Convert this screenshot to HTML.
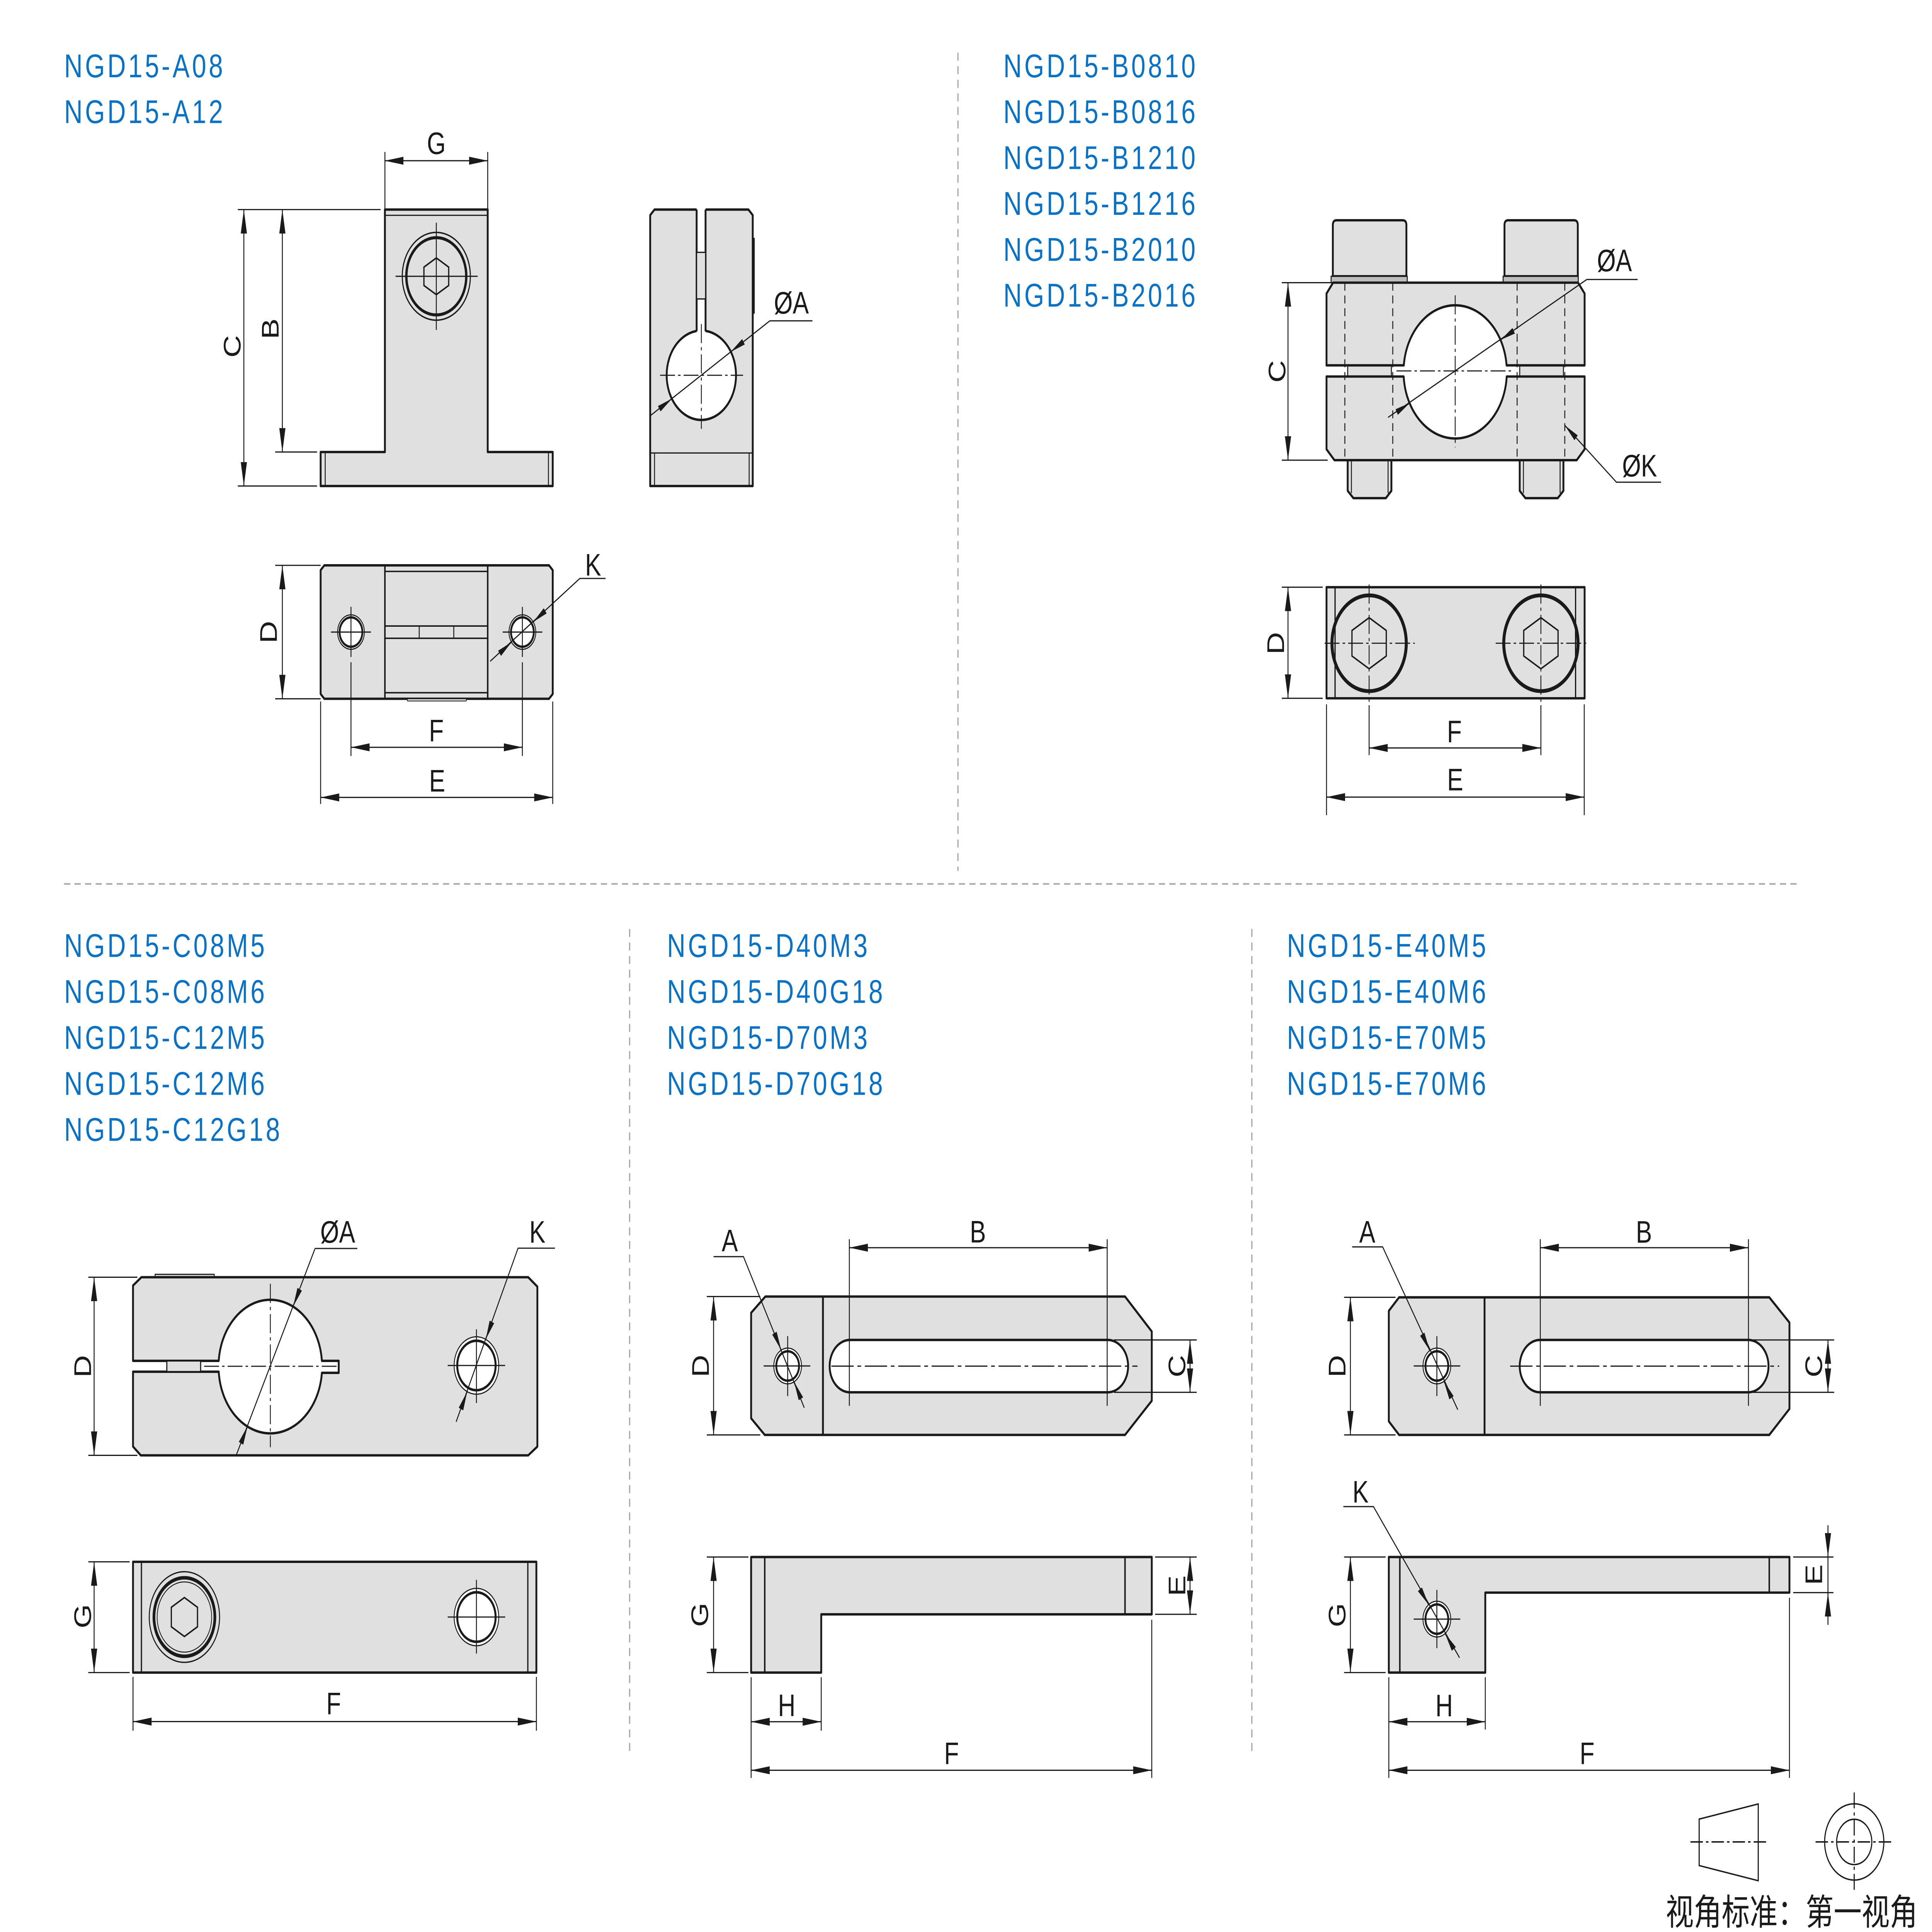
<!DOCTYPE html>
<html><head><meta charset="utf-8"><style>
html,body{margin:0;padding:0;background:#fff;width:100%;height:100%;overflow:hidden;}
svg{position:absolute;left:0;top:0;width:100vw;height:100vh;display:block;}
.o{fill:#e0e0e0;stroke:#1a1a1a;stroke-width:1.5;stroke-linejoin:round}
.w{fill:#fff;stroke:#1a1a1a;stroke-width:1.5}
.t{fill:none;stroke:#1a1a1a;stroke-width:0.75}
.tk{fill:none;stroke:#1a1a1a;stroke-width:1.5}
.c{fill:none;stroke:#1a1a1a;stroke-width:0.7;stroke-dasharray:12 2.5 2 2.5}
.hd{fill:none;stroke:#1a1a1a;stroke-width:0.75;stroke-dasharray:5 3}
.dv{fill:none;stroke:#a8a8a8;stroke-width:1;stroke-dasharray:5 3.5}
.l{font-family:"Liberation Sans",Arial,sans-serif;font-size:19.5px;fill:#1a1a1a;text-anchor:middle}
.h{font-family:"Liberation Sans",Arial,sans-serif;font-size:20.6px;fill:#0a72c4;letter-spacing:2px}
.cj{font-family:"Liberation Sans","Noto Sans CJK SC",sans-serif;font-size:22.6px;fill:#1a1a1a}
</style></head><body>
<svg xmlns="http://www.w3.org/2000/svg" viewBox="0 0 1560 1210.43" preserveAspectRatio="none">
<defs>
<marker id="a" markerUnits="userSpaceOnUse" markerWidth="15" markerHeight="5" viewBox="0 0 15 5" refX="15" refY="2.5" orient="auto-start-reverse"><path d="M0,0L15,2.5L0,5z" fill="#1a1a1a"/></marker>
<marker id="s" markerUnits="userSpaceOnUse" markerWidth="12" markerHeight="4" viewBox="0 0 12 4" refX="12" refY="2" orient="auto-start-reverse"><path d="M0,0L12,2L0,4z" fill="#1a1a1a"/></marker>
</defs>
<rect x="0" y="0" width="1560" height="1210.43" fill="#fff"/>

<!-- headings -->
<text class="h" x="51.8" y="48.4">NGD15-A08</text>
<text class="h" x="51.8" y="77.1">NGD15-A12</text>
<text class="h" x="810.2" y="48.4">NGD15-B0810</text>
<text class="h" x="810.2" y="77.1">NGD15-B0816</text>
<text class="h" x="810.2" y="105.9">NGD15-B1210</text>
<text class="h" x="810.2" y="134.6">NGD15-B1216</text>
<text class="h" x="810.2" y="163.4">NGD15-B2010</text>
<text class="h" x="810.2" y="192.1">NGD15-B2016</text>
<text class="h" x="51.8" y="599.5">NGD15-C08M5</text>
<text class="h" x="51.8" y="628.3">NGD15-C08M6</text>
<text class="h" x="51.8" y="657.1">NGD15-C12M5</text>
<text class="h" x="51.8" y="685.9">NGD15-C12M6</text>
<text class="h" x="51.8" y="714.7">NGD15-C12G18</text>
<text class="h" x="538.6" y="599.5">NGD15-D40M3</text>
<text class="h" x="538.6" y="628.3">NGD15-D40G18</text>
<text class="h" x="538.6" y="657.1">NGD15-D70M3</text>
<text class="h" x="538.6" y="685.9">NGD15-D70G18</text>
<text class="h" x="1039.1" y="599.5">NGD15-E40M5</text>
<text class="h" x="1039.1" y="628.3">NGD15-E40M6</text>
<text class="h" x="1039.1" y="657.1">NGD15-E70M5</text>
<text class="h" x="1039.1" y="685.9">NGD15-E70M6</text>

<!-- dividers -->
<line class="dv" x1="773.5" y1="33" x2="773.5" y2="545.7"/>
<line class="dv" x1="51.7" y1="553.8" x2="1452.6" y2="553.8"/>
<line class="dv" x1="508.4" y1="582" x2="508.4" y2="1099.4"/>
<line class="dv" x1="1010.8" y1="582" x2="1010.8" y2="1099.4"/>

<!-- ================= DRAWING A ================= -->
<polygon class="o" points="310.8,131.3 393.8,131.3 393.8,283.2 446.3,283.2 446.3,304.5 258.9,304.5 258.9,283.2 310.8,283.2"/>
<line class="t" x1="310.8" y1="134.9" x2="393.8" y2="134.9"/>
<line class="t" x1="262.6" y1="283.2" x2="262.6" y2="304.5"/>
<line class="t" x1="442.8" y1="283.2" x2="442.8" y2="304.5"/>
<circle cx="352.3" cy="173.1" r="27.5" fill="none" stroke="#1a1a1a" stroke-width="0.9"/>
<circle cx="352.3" cy="173.1" r="24.2" fill="none" stroke="#1a1a1a" stroke-width="1.9"/>
<polygon points="352.3,161.6 362.3,167.35 362.3,178.85 352.3,184.6 342.3,178.85 342.3,167.35" fill="none" stroke="#1a1a1a" stroke-width="1"/>
<line class="t" x1="319.4" y1="173.1" x2="385.7" y2="173.1"/>
<line class="t" x1="352.3" y1="139.5" x2="352.3" y2="206.7"/>
<line class="t" x1="310.8" y1="95.2" x2="310.8" y2="131.3"/>
<line class="t" x1="393.8" y1="95.2" x2="393.8" y2="131.3"/>
<line class="t" x1="310.8" y1="100.7" x2="393.8" y2="100.7" marker-start="url(#a)" marker-end="url(#a)"/>
<text class="l" x="352.3" y="96.5">G</text>
<line class="t" x1="192" y1="131.3" x2="307.3" y2="131.3"/>
<line class="t" x1="192" y1="304.5" x2="256" y2="304.5"/>
<line class="t" x1="196.9" y1="131.3" x2="196.9" y2="304.5" marker-start="url(#a)" marker-end="url(#a)"/>
<text class="l" transform="translate(187.2,217) rotate(-90)" y="7">C</text>
<line class="t" x1="222.2" y1="283.2" x2="256" y2="283.2"/>
<line class="t" x1="228" y1="131.3" x2="228" y2="283.2" marker-start="url(#a)" marker-end="url(#a)"/>
<text class="l" transform="translate(217.9,206) rotate(-90)" y="7">B</text>

<!-- side -->
<polygon class="o" points="528.5,131.3 604.3,131.3 607.8,134.8 607.8,304.5 525,304.5 525,134.8"/>
<line x1="608.6" y1="149" x2="608.6" y2="196.5" stroke="#1a1a1a" stroke-width="1.6"/>
<line class="t" x1="525" y1="283.8" x2="607.8" y2="283.8"/>
<line class="t" x1="528.5" y1="283.8" x2="528.5" y2="304.5"/>
<line class="t" x1="604.9" y1="283.8" x2="604.9" y2="304.5"/>
<circle class="w" cx="566.3" cy="235.1" r="28"/>
<rect x="562.5" y="129.8" width="7.2" height="78.5" fill="#fff"/>
<line class="tk" x1="562.5" y1="131.3" x2="562.5" y2="207.6"/>
<line class="tk" x1="569.7" y1="131.3" x2="569.7" y2="207.6"/>
<rect x="562.5" y="158.1" width="7.2" height="29.2" fill="#e0e0e0" stroke="#1a1a1a" stroke-width="0.8"/>
<line class="c" x1="533" y1="235.1" x2="600" y2="235.1"/>
<line class="c" x1="566.3" y1="203" x2="566.3" y2="268.7"/>
<line class="t" x1="525" y1="260.5" x2="621.6" y2="201"/>
<line class="t" x1="621.6" y1="201" x2="656" y2="201"/>
<line class="t" x1="600.3" y1="214.1" x2="590.1" y2="220.4" marker-end="url(#s)"/>
<line class="t" x1="532.3" y1="256.1" x2="542.5" y2="249.8" marker-end="url(#s)"/>
<text class="l" x="639" y="196.5">ØA</text>

<!-- top view -->
<polygon class="o" points="261.9,354.2 443.3,354.2 446.3,357.2 446.3,434.8 443.3,437.8 261.9,437.8 258.9,434.8 258.9,357.2"/>
<line class="tk" x1="310.8" y1="354.2" x2="310.8" y2="437.8" style="stroke-width:1.2"/>
<line class="tk" x1="393.8" y1="354.2" x2="393.8" y2="437.8" style="stroke-width:1.2"/>
<line class="t" x1="310.8" y1="358" x2="393.8" y2="358" style="stroke-width:0.9"/>
<line class="t" x1="310.8" y1="434" x2="393.8" y2="434" style="stroke-width:0.9"/>
<line class="t" x1="310.8" y1="392.2" x2="393.8" y2="392.2" style="stroke-width:0.9"/>
<line class="t" x1="310.8" y1="399.9" x2="393.8" y2="399.9" style="stroke-width:0.9"/>
<line class="t" x1="338.5" y1="392.2" x2="338.5" y2="399.9"/>
<line class="t" x1="366.4" y1="392.2" x2="366.4" y2="399.9"/>
<rect x="329" y="437.8" width="47.5" height="1.4" fill="#e0e0e0" stroke="#1a1a1a" stroke-width="0.5"/>
<circle cx="283.4" cy="396" r="10.8" fill="#fff" stroke="#1a1a1a" stroke-width="0.7"/>
<circle cx="283.4" cy="396" r="9.2" fill="none" stroke="#1a1a1a" stroke-width="1.5"/>
<circle cx="421.8" cy="396" r="10.8" fill="#fff" stroke="#1a1a1a" stroke-width="0.7"/>
<circle cx="421.8" cy="396" r="9.2" fill="none" stroke="#1a1a1a" stroke-width="1.5"/>
<line class="t" x1="267.2" y1="396" x2="299.5" y2="396"/>
<line class="t" x1="283.4" y1="380.2" x2="283.4" y2="411.6"/>
<line class="t" x1="405.9" y1="396" x2="437.9" y2="396"/>
<line class="t" x1="421.8" y1="380.2" x2="421.8" y2="411.6"/>
<line class="t" x1="283.4" y1="414.9" x2="283.4" y2="473.6"/>
<line class="t" x1="421.8" y1="414.9" x2="421.8" y2="473.6"/>
<line class="t" x1="222.2" y1="354.2" x2="258.9" y2="354.2"/>
<line class="t" x1="222.2" y1="437.8" x2="258.9" y2="437.8"/>
<line class="t" x1="228" y1="354.2" x2="228" y2="437.8" marker-start="url(#a)" marker-end="url(#a)"/>
<text class="l" transform="translate(216.5,396) rotate(-90)" y="7">D</text>
<line class="t" x1="283.4" y1="468.2" x2="421.8" y2="468.2" marker-start="url(#a)" marker-end="url(#a)"/>
<text class="l" x="352.3" y="464.4">F</text>
<line class="t" x1="258.9" y1="439.5" x2="258.9" y2="503.7"/>
<line class="t" x1="446.3" y1="439.5" x2="446.3" y2="503.7"/>
<line class="t" x1="258.9" y1="499.6" x2="446.3" y2="499.6" marker-start="url(#a)" marker-end="url(#a)"/>
<text class="l" x="353" y="495.9">E</text>
<polyline class="t" points="489,362.4 468.2,362.4 395.8,414.3"/>
<line class="t" x1="440.2" y1="382.7" x2="430.5" y2="389.7" marker-end="url(#s)"/>
<line class="t" x1="403.4" y1="409.3" x2="413.1" y2="402.3" marker-end="url(#s)"/>
<text class="l" x="478.9" y="360.6">K</text>

<!-- ================= DRAWING B ================= -->
<path class="o" d="M1076.2,173.1L1076.2,141Q1076.2,138 1079.2,138L1132.6,138Q1135.6,138 1135.6,141L1135.6,173.1Z"/>
<path class="o" d="M1214.8,173.1L1214.8,141Q1214.8,138 1217.8,138L1271,138Q1274,138 1274,141L1274,173.1Z"/>
<rect x="1074.8" y="173.1" width="61.5" height="4" fill="#bdbdbd" stroke="#1a1a1a" stroke-width="0.8"/>
<rect x="1213.7" y="173.1" width="60.7" height="4" fill="#bdbdbd" stroke="#1a1a1a" stroke-width="0.8"/>
<rect class="o" x="1088.2" y="228.9" width="35.3" height="7" style="stroke-width:0.8"/>
<rect class="o" x="1227.1" y="228.9" width="35.3" height="7" style="stroke-width:0.8"/>
<polygon class="o" points="1088.2,288.3 1123.5,288.3 1123.5,307.5 1119,312.1 1092.8,312.1 1088.2,307.5"/>
<polygon class="o" points="1227.1,288.3 1262.4,288.3 1262.4,307.5 1257.8,312.1 1231.7,312.1 1227.1,307.5"/>
<line class="t" x1="1091.2" y1="288.3" x2="1091.2" y2="309"/>
<line class="t" x1="1120.8" y1="288.3" x2="1120.8" y2="309"/>
<line class="t" x1="1230.1" y1="288.3" x2="1230.1" y2="309"/>
<line class="t" x1="1259.7" y1="288.3" x2="1259.7" y2="309"/>
<path class="o" d="M1071.1,228.9L1071.1,183.9L1076.4,177.1L1274.2,177.1L1279.5,183.9L1279.5,228.9L1216.5,228.9A41.7,41.7 0 0 0 1133.5,228.9Z"/>
<path class="o" d="M1071.1,235.9L1133.4,235.9A41.7,41.7 0 0 0 1216.6,235.9L1279.5,235.9L1279.5,281.5L1273.1,288.3L1077.5,288.3L1071.1,281.5Z"/>
<line class="hd" x1="1085.9" y1="177.1" x2="1085.9" y2="288.3"/>
<line class="hd" x1="1124.6" y1="177.1" x2="1124.6" y2="288.3"/>
<line class="hd" x1="1225" y1="177.1" x2="1225" y2="288.3"/>
<line class="hd" x1="1263.5" y1="177.1" x2="1263.5" y2="288.3"/>
<line class="c" x1="1127.6" y1="232.4" x2="1222.1" y2="232.4"/>
<line class="c" x1="1175" y1="185" x2="1175" y2="280.3"/>
<line class="t" x1="1120.8" y1="261.5" x2="1281.3" y2="175.1"/>
<line class="t" x1="1281.3" y1="175.1" x2="1322.3" y2="175.1"/>
<line class="t" x1="1222.3" y1="207.2" x2="1211.7" y2="212.9" marker-end="url(#s)"/>
<line class="t" x1="1127.7" y1="258.2" x2="1138.3" y2="252.5" marker-end="url(#s)"/>
<text class="l" x="1303.6" y="170">ØA</text>
<polyline class="t" points="1341.2,302.1 1305.2,302.1 1263.5,266.5" marker-end="url(#s)"/>
<text class="l" x="1323.9" y="298.5">ØK</text>
<line class="t" x1="1035" y1="177.1" x2="1074.8" y2="177.1"/>
<line class="t" x1="1035" y1="288.3" x2="1072" y2="288.3"/>
<line class="t" x1="1040" y1="177.1" x2="1040" y2="288.3" marker-start="url(#a)" marker-end="url(#a)"/>
<text class="l" transform="translate(1030.9,232.7) rotate(-90)" y="7">C</text>
<rect class="o" x="1071.1" y="367.9" width="208.4" height="69.6"/>
<line class="t" x1="1078" y1="367.9" x2="1078" y2="437.5" style="stroke-width:1"/>
<line class="t" x1="1272.2" y1="367.9" x2="1272.2" y2="437.5" style="stroke-width:1"/>
<circle cx="1105.5" cy="403" r="30" fill="none" stroke="#1a1a1a" stroke-width="2.4"/>
<circle cx="1244.2" cy="403" r="30" fill="none" stroke="#1a1a1a" stroke-width="2.4"/>
<polygon points="1105.5,387 1119.36,395 1119.36,411 1105.5,419 1091.64,411 1091.64,395" fill="none" stroke="#1a1a1a" stroke-width="1"/>
<polygon points="1244.2,387 1258.06,395 1258.06,411 1244.2,419 1230.34,411 1230.34,395" fill="none" stroke="#1a1a1a" stroke-width="1"/>
<line class="c" x1="1069.6" y1="403" x2="1142.4" y2="403"/>
<line class="c" x1="1207.7" y1="403" x2="1280.8" y2="403"/>
<line class="c" x1="1105.5" y1="366.2" x2="1105.5" y2="440.5"/>
<line class="c" x1="1244.2" y1="366.2" x2="1244.2" y2="440.5"/>
<line class="t" x1="1105.5" y1="441.8" x2="1105.5" y2="473.1"/>
<line class="t" x1="1244.2" y1="441.8" x2="1244.2" y2="473.1"/>
<line class="t" x1="1035" y1="367.9" x2="1068" y2="367.9"/>
<line class="t" x1="1035" y1="437.5" x2="1068" y2="437.5"/>
<line class="t" x1="1040" y1="367.9" x2="1040" y2="437.5" marker-start="url(#a)" marker-end="url(#a)"/>
<text class="l" transform="translate(1029.7,403) rotate(-90)" y="7">D</text>
<line class="t" x1="1105.5" y1="468.6" x2="1244.2" y2="468.6" marker-start="url(#a)" marker-end="url(#a)"/>
<text class="l" x="1174.3" y="465">F</text>
<line class="t" x1="1071.1" y1="441.3" x2="1071.1" y2="510.7"/>
<line class="t" x1="1279.2" y1="441.3" x2="1279.2" y2="510.7"/>
<line class="t" x1="1071.1" y1="499.4" x2="1279.2" y2="499.4" marker-start="url(#a)" marker-end="url(#a)"/>
<text class="l" x="1175" y="495.2">E</text>

<!-- ================= DRAWING C ================= -->
<rect class="o" x="125.2" y="798.4" width="47.8" height="2" style="stroke-width:0.7"/>
<path class="o" d="M114.2,800.2L426.5,800.2L433.9,806.1L433.9,906.3L426.5,911.8L113.7,911.8L107.4,906.3L107.4,859.4L176.6,859.4A41.8,41.8 0 0 0 259.9,860.1L273.5,860.1L273.5,852.6L259.9,852.6A41.8,41.8 0 0 0 176.6,852.6L107.4,852.6L107.4,805.4Z"/>
<rect x="134.7" y="852.6" width="27.3" height="6.8" fill="#e0e0e0" stroke="#1a1a1a" stroke-width="0.9"/>
<line class="c" x1="218.3" y1="804.3" x2="218.3" y2="906.7"/>
<line class="c" x1="164.8" y1="856" x2="274" y2="856"/>
<line class="t" x1="190.7" y1="911.8" x2="254.4" y2="782.2"/>
<line class="t" x1="254.4" y1="782.2" x2="288.5" y2="782.2"/>
<line class="t" x1="242" y1="807.7" x2="236.7" y2="818.5" marker-end="url(#s)"/>
<line class="t" x1="194.6" y1="904.3" x2="199.9" y2="893.5" marker-end="url(#s)"/>
<text class="l" x="272.7" y="778.5">ØA</text>
<circle cx="384.7" cy="855.5" r="18" fill="#fff" stroke="#1a1a1a" stroke-width="0.7"/>
<circle cx="384.7" cy="855.5" r="15.5" fill="none" stroke="#1a1a1a" stroke-width="1.6"/>
<line class="t" x1="361.5" y1="855.5" x2="407.9" y2="855.5"/>
<line class="t" x1="384.7" y1="832.8" x2="384.7" y2="879"/>
<polyline class="t" points="448.1,782 418.3,782 368.3,890.8"/>
<line class="t" x1="397.2" y1="828.2" x2="392.2" y2="839.1" marker-end="url(#s)"/>
<line class="t" x1="372.2" y1="882.8" x2="377.2" y2="871.9" marker-end="url(#s)"/>
<text class="l" x="433.9" y="778.5">K</text>
<line class="t" x1="71.3" y1="800.2" x2="110.9" y2="800.2"/>
<line class="t" x1="71.3" y1="911.8" x2="110.9" y2="911.8"/>
<line class="t" x1="76" y1="800.2" x2="76" y2="911.8" marker-start="url(#a)" marker-end="url(#a)"/>
<text class="l" transform="translate(66.4,856) rotate(-90)" y="7">D</text>
<rect class="o" x="107.4" y="978.5" width="325.7" height="69.4"/>
<line class="t" x1="114.2" y1="978.5" x2="114.2" y2="1047.9" style="stroke-width:1"/>
<line class="t" x1="426.2" y1="978.5" x2="426.2" y2="1047.9" style="stroke-width:1"/>
<circle cx="148.9" cy="1013.1" r="28.4" fill="none" stroke="#1a1a1a" stroke-width="0.8"/>
<circle cx="148.9" cy="1013.1" r="24.6" fill="none" stroke="#1a1a1a" stroke-width="2.2"/>
<circle cx="148.9" cy="1013.1" r="22" fill="none" stroke="#1a1a1a" stroke-width="0.6"/>
<polygon points="148.9,1000.9 159.47,1007 159.47,1019.2 148.9,1025.3 138.33,1019.2 138.33,1007" fill="none" stroke="#1a1a1a" stroke-width="1"/>
<circle cx="384.7" cy="1013.1" r="18" fill="#fff" stroke="#1a1a1a" stroke-width="0.7"/>
<circle cx="384.7" cy="1013.1" r="15.5" fill="none" stroke="#1a1a1a" stroke-width="1.6"/>
<line class="t" x1="361.5" y1="1013.1" x2="407.9" y2="1013.1"/>
<line class="t" x1="384.7" y1="989.8" x2="384.7" y2="1036"/>
<line class="t" x1="71.3" y1="978.5" x2="104.7" y2="978.5"/>
<line class="t" x1="71.3" y1="1047.9" x2="104.7" y2="1047.9"/>
<line class="t" x1="76" y1="978.5" x2="76" y2="1047.9" marker-start="url(#a)" marker-end="url(#a)"/>
<text class="l" transform="translate(66.4,1012.6) rotate(-90)" y="7">G</text>
<line class="t" x1="107.4" y1="1050.6" x2="107.4" y2="1084.3"/>
<line class="t" x1="433.1" y1="1050.6" x2="433.1" y2="1084.3"/>
<line class="t" x1="107.4" y1="1078.6" x2="433.1" y2="1078.6" marker-start="url(#a)" marker-end="url(#a)"/>
<text class="l" x="269.4" y="1074">F</text>

<!-- ================= DRAWING D ================= -->
<polygon class="o" points="618,812.3 908.4,812.3 930,834.2 930,877.6 908.4,899 617.5,899 606.5,888.6 606.5,822.5"/>
<line class="tk" x1="664.5" y1="812.3" x2="664.5" y2="899"/>
<path class="w" d="M686.3,839.5L894.5,839.5A16.4,16.4 0 0 1 894.5,872.3L686.3,872.3A16.4,16.4 0 0 1 686.3,839.5Z"/>
<line class="t" x1="671.3" y1="855.9" x2="918.5" y2="855.9" style="stroke-dasharray:18 3 3 3"/>
<line class="t" x1="685.8" y1="776.4" x2="685.8" y2="880.8"/>
<line class="t" x1="894" y1="776.4" x2="894" y2="880.8"/>
<line class="t" x1="685.8" y1="781.7" x2="894" y2="781.7" marker-start="url(#a)" marker-end="url(#a)"/>
<text class="l" x="789.6" y="778.4">B</text>
<line class="t" x1="899.4" y1="839.5" x2="966.3" y2="839.5"/>
<line class="t" x1="899.4" y1="872.3" x2="966.3" y2="872.3"/>
<line class="t" x1="960.9" y1="839.5" x2="960.9" y2="872.3" marker-start="url(#a)" marker-end="url(#a)"/>
<text class="l" transform="translate(950,855.9) rotate(-90)" y="7">C</text>
<line class="t" x1="570.7" y1="812.3" x2="613.9" y2="812.3"/>
<line class="t" x1="570.7" y1="899" x2="613.9" y2="899"/>
<line class="t" x1="576.2" y1="812.3" x2="576.2" y2="899" marker-start="url(#a)" marker-end="url(#a)"/>
<text class="l" transform="translate(565.3,855.8) rotate(-90)" y="7">D</text>
<circle cx="636" cy="855.8" r="11.2" fill="#fff" stroke="#1a1a1a" stroke-width="0.7"/>
<circle cx="636" cy="855.8" r="9.2" fill="none" stroke="#1a1a1a" stroke-width="1.5"/>
<line class="t" x1="616.6" y1="855.8" x2="654.3" y2="855.8"/>
<line class="t" x1="636" y1="837.1" x2="636" y2="874.7"/>
<polyline class="t" points="576.2,787.3 600.3,787.3 649.4,882"/>
<line class="t" x1="625.3" y1="835.2" x2="630.8" y2="845.9" marker-end="url(#s)"/>
<line class="t" x1="646.7" y1="876.4" x2="641.2" y2="865.7" marker-end="url(#s)"/>
<text class="l" x="589.3" y="784">A</text>
<polygon class="o" points="606.5,975.5 930,975.5 930,1011.4 663.1,1011.4 663.1,1047.9 606.5,1047.9"/>
<line class="tk" x1="617.5" y1="975.5" x2="617.5" y2="1047.9" style="stroke-width:1.2"/>
<line class="tk" x1="908.4" y1="975.5" x2="908.4" y2="1011.4" style="stroke-width:1.2"/>
<line class="t" x1="570.7" y1="975.5" x2="604.3" y2="975.5"/>
<line class="t" x1="570.7" y1="1047.9" x2="604.3" y2="1047.9"/>
<line class="t" x1="576.2" y1="975.5" x2="576.2" y2="1047.9" marker-start="url(#a)" marker-end="url(#a)"/>
<text class="l" transform="translate(564.7,1011.7) rotate(-90)" y="7">G</text>
<line class="t" x1="932.7" y1="975.5" x2="966.3" y2="975.5"/>
<line class="t" x1="932.7" y1="1011.4" x2="966.3" y2="1011.4"/>
<line class="t" x1="960.9" y1="975.5" x2="960.9" y2="1011.4" marker-start="url(#a)" marker-end="url(#a)"/>
<text class="l" transform="translate(950,993.5) rotate(-90)" y="7">E</text>
<line class="t" x1="606.5" y1="1050.8" x2="606.5" y2="1113.9"/>
<line class="t" x1="663.1" y1="1050.8" x2="663.1" y2="1084.3"/>
<line class="t" x1="606.5" y1="1078.7" x2="663.1" y2="1078.7" marker-start="url(#a)" marker-end="url(#a)"/>
<text class="l" x="635.2" y="1075.2">H</text>
<line class="t" x1="930" y1="1014.8" x2="930" y2="1113.9"/>
<line class="t" x1="606.5" y1="1109.1" x2="930" y2="1109.1" marker-start="url(#a)" marker-end="url(#a)"/>
<text class="l" x="768.3" y="1105.3">F</text>

<!-- ================= DRAWING E ================= -->
<polygon class="o" points="1129.7,812.8 1428.6,812.8 1444.9,828.6 1444.9,882.7 1428.6,899 1129.7,899 1121.4,890.5 1121.4,821.3"/>
<line class="tk" x1="1198.7" y1="812.8" x2="1198.7" y2="899"/>
<path class="w" d="M1243.5,839.5L1411.6,839.5A16.4,16.4 0 0 1 1411.6,872.3L1243.5,872.3A16.4,16.4 0 0 1 1243.5,839.5Z"/>
<line class="t" x1="1219.4" y1="855.9" x2="1436.6" y2="855.9" style="stroke-dasharray:18 3 3 3"/>
<line class="t" x1="1243.7" y1="776.4" x2="1243.7" y2="880.8"/>
<line class="t" x1="1411.8" y1="776.4" x2="1411.8" y2="880.8"/>
<line class="t" x1="1243.7" y1="781.7" x2="1411.8" y2="781.7" marker-start="url(#a)" marker-end="url(#a)"/>
<text class="l" x="1327.4" y="778.5">B</text>
<line class="t" x1="1412.4" y1="839.5" x2="1481" y2="839.5"/>
<line class="t" x1="1412.4" y1="872.3" x2="1481" y2="872.3"/>
<line class="t" x1="1476" y1="839.5" x2="1476" y2="872.3" marker-start="url(#a)" marker-end="url(#a)"/>
<text class="l" transform="translate(1464.2,855.9) rotate(-90)" y="7">C</text>
<line class="t" x1="1085.3" y1="812.8" x2="1126.8" y2="812.8"/>
<line class="t" x1="1085.3" y1="899" x2="1126.8" y2="899"/>
<line class="t" x1="1090.4" y1="812.8" x2="1090.4" y2="899" marker-start="url(#a)" marker-end="url(#a)"/>
<text class="l" transform="translate(1079.4,855.9) rotate(-90)" y="7">D</text>
<circle cx="1160.2" cy="855.8" r="11.2" fill="#fff" stroke="#1a1a1a" stroke-width="0.7"/>
<circle cx="1160.2" cy="855.8" r="9.2" fill="none" stroke="#1a1a1a" stroke-width="1.5"/>
<line class="t" x1="1141.5" y1="855.8" x2="1179.1" y2="855.8"/>
<line class="t" x1="1160.2" y1="837.1" x2="1160.2" y2="874.7"/>
<polyline class="t" points="1091.8,781.2 1116.4,781.2 1177.1,883.2"/>
<line class="t" x1="1148.4" y1="835.9" x2="1154.5" y2="846.2" marker-end="url(#s)"/>
<line class="t" x1="1172" y1="875.7" x2="1165.9" y2="865.4" marker-end="url(#s)"/>
<text class="l" x="1104" y="778.6">A</text>
<polygon class="o" points="1121.4,975.5 1444.9,975.5 1444.9,997.8 1199.3,997.8 1199.3,1047.9 1121.4,1047.9"/>
<line class="tk" x1="1130.3" y1="975.5" x2="1130.3" y2="1047.9" style="stroke-width:1.2"/>
<line class="tk" x1="1428.6" y1="975.5" x2="1428.6" y2="997.8" style="stroke-width:1.2"/>
<circle cx="1160.2" cy="1014.4" r="11.2" fill="#fff" stroke="#1a1a1a" stroke-width="0.7"/>
<circle cx="1160.2" cy="1014.4" r="9.2" fill="none" stroke="#1a1a1a" stroke-width="1.5"/>
<line class="t" x1="1141.5" y1="1014.4" x2="1179.1" y2="1014.4"/>
<line class="t" x1="1160.2" y1="996.1" x2="1160.2" y2="1032.6"/>
<polyline class="t" points="1084.7,943.9 1109,943.9 1178.5,1038.6"/>
<line class="t" x1="1146.5" y1="995.7" x2="1153.6" y2="1005.4" marker-end="url(#s)"/>
<line class="t" x1="1173.9" y1="1033.1" x2="1166.8" y2="1023.4" marker-end="url(#s)"/>
<text class="l" x="1098.6" y="941.3">K</text>
<line class="t" x1="1085.3" y1="975.5" x2="1118.8" y2="975.5"/>
<line class="t" x1="1085.3" y1="1047.9" x2="1118.8" y2="1047.9"/>
<line class="t" x1="1090.4" y1="975.5" x2="1090.4" y2="1047.9" marker-start="url(#a)" marker-end="url(#a)"/>
<text class="l" transform="translate(1079.4,1011.9) rotate(-90)" y="7">G</text>
<line class="t" x1="1447.9" y1="975.5" x2="1480.4" y2="975.5"/>
<line class="t" x1="1447.9" y1="997.8" x2="1480.4" y2="997.8"/>
<line class="t" x1="1476" y1="975.5" x2="1476" y2="997.8"/>
<line class="t" x1="1476" y1="955.6" x2="1476" y2="975.5" marker-end="url(#a)"/>
<line class="t" x1="1476" y1="1018" x2="1476" y2="997.8" marker-end="url(#a)"/>
<text class="l" transform="translate(1464.2,986.6) rotate(-90)" y="7">E</text>
<line class="t" x1="1121.4" y1="1050.8" x2="1121.4" y2="1113.9"/>
<line class="t" x1="1199.3" y1="1050.8" x2="1199.3" y2="1083.6"/>
<line class="t" x1="1121.4" y1="1078.7" x2="1199.3" y2="1078.7" marker-start="url(#a)" marker-end="url(#a)"/>
<text class="l" x="1166.1" y="1075.3">H</text>
<line class="t" x1="1444.9" y1="1001" x2="1444.9" y2="1113.9"/>
<line class="t" x1="1121.4" y1="1109.1" x2="1444.9" y2="1109.1" marker-start="url(#a)" marker-end="url(#a)"/>
<text class="l" x="1281.5" y="1105.3">F</text>

<!-- ================= view symbol ================= -->
<polygon points="1372,1139.7 1419.7,1130.2 1419.7,1178.3 1372,1168.8" fill="none" stroke="#1a1a1a" stroke-width="0.9"/>
<line x1="1365" y1="1154" x2="1427" y2="1154" stroke="#1a1a1a" stroke-width="0.9" stroke-dasharray="10 2.5 2 2.5"/>
<circle cx="1497.2" cy="1154" r="23.9" fill="none" stroke="#1a1a1a" stroke-width="0.9"/>
<circle cx="1497.2" cy="1154" r="14.2" fill="none" stroke="#1a1a1a" stroke-width="0.9"/>
<line x1="1497.2" y1="1123" x2="1497.2" y2="1185.5" stroke="#1a1a1a" stroke-width="0.9" stroke-dasharray="10 2.5 2 2.5"/>
<line x1="1466" y1="1154" x2="1528" y2="1154" stroke="#1a1a1a" stroke-width="0.9" stroke-dasharray="10 2.5 2 2.5"/>
<text class="cj" x="1345" y="1206">视角标准：第一视角</text>
</svg>
</body></html>
